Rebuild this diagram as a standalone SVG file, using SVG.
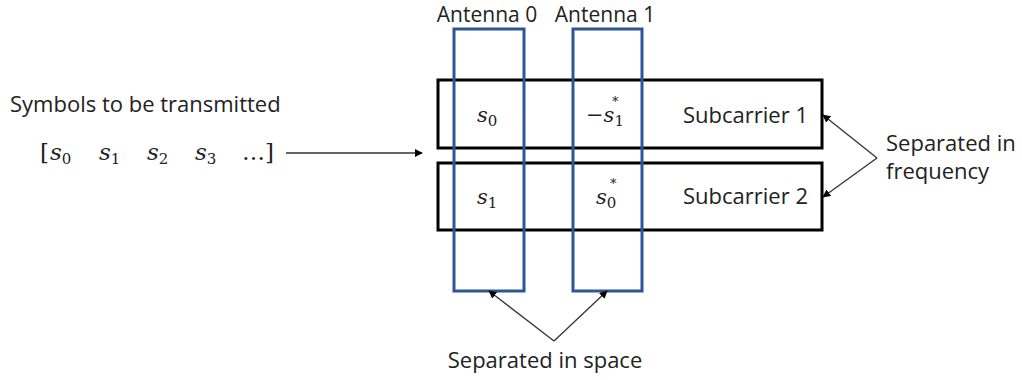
<svg xmlns="http://www.w3.org/2000/svg" width="1022" height="380" viewBox="0 0 1022 380">
<defs>
<style>
.t{font-family:"Open Sans","Liberation Sans",sans-serif;font-size:22px;fill:#222}
.a{font-size:21px}
.m{font-family:"DejaVu Serif","Liberation Serif",serif;font-style:italic;font-size:21px;fill:#222}
.ml{font-size:23px}
.n{font-style:normal}
.sub{font-style:normal;font-size:15px}
.sup{font-family:"DejaVu Serif","Liberation Serif",serif;font-size:13px;fill:#222}
.box{fill:none;stroke:#000;stroke-width:3}
.ant{fill:none;stroke:#2F5597;stroke-width:3}
.c{fill:none;stroke:#333;stroke-width:1.3}
</style>
<marker id="ah" viewBox="0 0 10 10" refX="9" refY="5" markerWidth="8" markerHeight="8" markerUnits="userSpaceOnUse" orient="auto">
<path d="M0,0 L10,5 L0,10 z" fill="#000"/>
</marker>
</defs>
<rect width="1022" height="380" fill="#fff"/>
<g id="input">
<text class="t" x="10" y="112">Symbols to be transmitted</text>
<text class="m ml" y="160"><tspan class="n" x="40">[</tspan><tspan x="50">s</tspan><tspan class="sub" dy="4">0</tspan><tspan x="99" dy="-4">s</tspan><tspan class="sub" dy="4">1</tspan><tspan x="147" dy="-4">s</tspan><tspan class="sub" dy="4">2</tspan><tspan x="195" dy="-4">s</tspan><tspan class="sub" dy="4">3</tspan><tspan class="n" x="242" dy="-4">…]</tspan></text>
</g>
<g id="subcarrier1">
<rect class="box" x="438" y="80" width="384" height="68"/>
<text class="t" x="808" y="123" text-anchor="end">Subcarrier 1</text>
</g>
<g id="subcarrier2">
<rect class="box" x="438" y="163" width="384" height="67"/>
<text class="t" x="808" y="204" text-anchor="end">Subcarrier 2</text>
</g>
<g id="antenna0">
<rect class="ant" x="454" y="29" width="70" height="262"/>
<text class="t a" x="487" y="22" text-anchor="middle">Antenna 0</text>
<text class="m" x="477" y="122">s<tspan class="sub" dy="4">0</tspan></text>
<text class="m" x="477" y="204">s<tspan class="sub" dy="4">1</tspan></text>
</g>
<g id="antenna1">
<rect class="ant" x="573" y="29" width="69" height="262"/>
<text class="t a" x="605" y="22" text-anchor="middle">Antenna 1</text>
<text class="m" x="586" y="122"><tspan class="n">−</tspan>s<tspan class="sub" dy="4">1</tspan></text>
<text class="sup" x="612" y="106">*</text>
<text class="m" x="596" y="204">s<tspan class="sub" dy="4">0</tspan></text>
<text class="sup" x="610" y="188">*</text>
</g>
<g id="freq-label">
<text class="t" x="886" y="151">Separated in</text>
<text class="t" x="886" y="179">frequency</text>
</g>
<g id="space-label">
<text class="t" x="545" y="368" text-anchor="middle">Separated in space</text>
</g>
<g id="connectors">
<line class="c" x1="286" y1="153" x2="422" y2="153" marker-end="url(#ah)"/>
<line class="c" x1="877" y1="158" x2="823" y2="115" marker-end="url(#ah)"/>
<line class="c" x1="877" y1="158" x2="823" y2="197" marker-end="url(#ah)"/>
<line class="c" x1="554" y1="341" x2="489" y2="291" marker-end="url(#ah)"/>
<line class="c" x1="554" y1="341" x2="607" y2="291" marker-end="url(#ah)"/>
</g>
</svg>
